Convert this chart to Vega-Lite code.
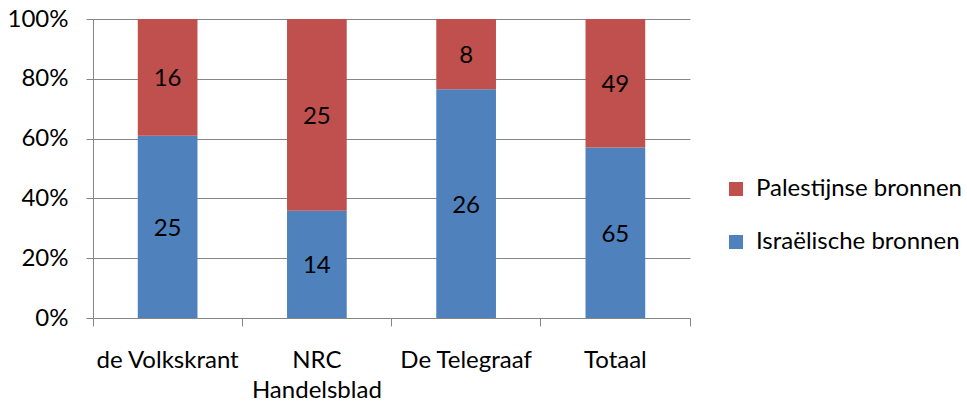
{
  "$schema": "https://vega.github.io/schema/vega-lite/v6.json",
  "width": 597,
  "height": 299,
  "autosize": {"type": "none"},
  "padding": {"left": 93, "top": 19, "right": 277, "bottom": 87},
  "background": "white",
  "config": {
    "font": "Lato",
    "view": {"stroke": null},
    "axis": {"labelFont": "Lato", "labelFontSize": 24, "labelColor": "#000000"},
    "legend": {"labelFont": "Lato", "labelFontSize": 24, "labelColor": "#000000", "labelLimit": 0}
  },
  "data": {
    "values": [
      {"krant": "de Volkskrant", "bron": "Israëlische bronnen", "aantal": 25},
      {"krant": "de Volkskrant", "bron": "Palestijnse bronnen", "aantal": 16},
      {"krant": "NRC Handelsblad", "bron": "Israëlische bronnen", "aantal": 14},
      {"krant": "NRC Handelsblad", "bron": "Palestijnse bronnen", "aantal": 25},
      {"krant": "De Telegraaf", "bron": "Israëlische bronnen", "aantal": 26},
      {"krant": "De Telegraaf", "bron": "Palestijnse bronnen", "aantal": 8},
      {"krant": "Totaal", "bron": "Israëlische bronnen", "aantal": 65},
      {"krant": "Totaal", "bron": "Palestijnse bronnen", "aantal": 49}
    ]
  },
  "transform": [
    {"stack": "aantal", "groupby": ["krant"], "sort": [{"field": "bron", "order": "ascending"}], "offset": "normalize", "as": ["y0", "y1"]},
    {"calculate": "(datum.y0 + datum.y1) / 2", "as": "ymid"}
  ],
  "encoding": {
    "x": {
      "field": "krant",
      "type": "nominal",
      "sort": ["de Volkskrant", "NRC Handelsblad", "De Telegraaf", "Totaal"],
      "scale": {"paddingInner": 0, "paddingOuter": 0},
      "axis": {
        "title": null,
        "labelAngle": 0,
        "bandPosition": 1,
        "tickExtra": true,
        "tickSize": 8,
        "tickColor": "#868686",
        "domainColor": "#868686",
        "labelPadding": 22,
        "labelLineHeight": 30,
        "labelBaseline": "top",
        "labelExpr": "datum.value == 'NRC Handelsblad' ? ['NRC', 'Handelsblad'] : datum.label",
        "grid": false
      }
    }
  },
  "layer": [
    {
      "mark": {"type": "bar", "width": {"band": 0.4}},
      "encoding": {
        "y": {
          "field": "y1",
          "type": "quantitative",
          "scale": {"domain": [0, 1]},
          "axis": {
            "title": null,
            "format": ".0%",
            "values": [0, 0.2, 0.4, 0.6, 0.8, 1],
            "grid": true,
            "gridColor": "#868686",
            "tickColor": "#868686",
            "domainColor": "#868686",
            "tickSize": 7,
            "labelPadding": 18
          }
        },
        "y2": {"field": "y0"},
        "color": {
          "field": "bron",
          "type": "nominal",
          "scale": {"domain": ["Palestijnse bronnen", "Israëlische bronnen"], "range": ["#C0504D", "#4F81BD"]},
          "legend": {
            "title": null,
            "orient": "none",
            "legendX": 631,
            "legendY": 158,
            "symbolType": "square",
            "symbolSize": 196,
            "symbolStrokeWidth": 0,
            "rowPadding": 29,
            "labelOffset": 8
          }
        }
      }
    },
    {
      "mark": {"type": "text", "fontSize": 24, "color": "#000000", "baseline": "middle", "dy": 2},
      "encoding": {
        "y": {"field": "ymid", "type": "quantitative"},
        "text": {"field": "aantal", "type": "quantitative"}
      }
    }
  ]
}
